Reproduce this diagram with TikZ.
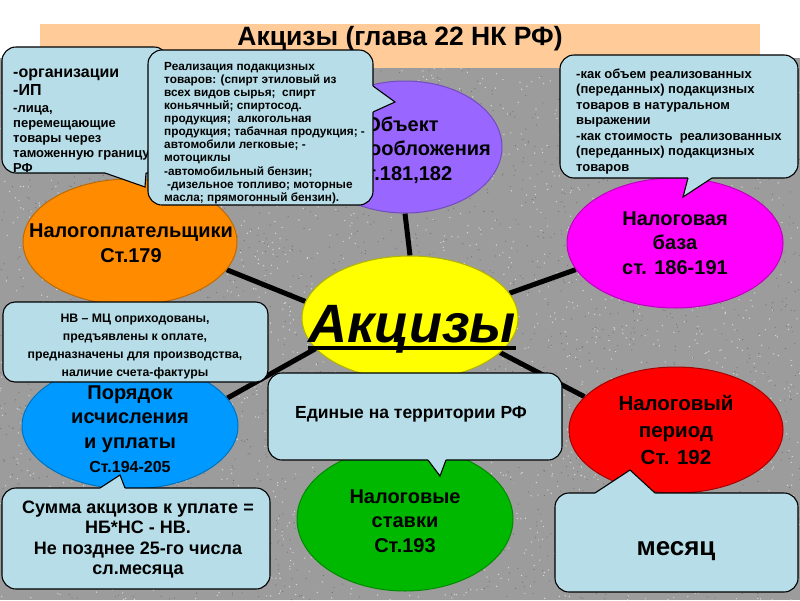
\documentclass[tikz,border=0pt]{standalone}
\usepackage{fontspec}
\setmainfont{Liberation Sans}
\usetikzlibrary{shapes.geometric}
\pgfdeclarelayer{bg}
\pgfdeclarelayer{lines}
\pgfsetlayers{bg,lines,main}
\definecolor{callout}{RGB}{183,222,232}
\definecolor{peach}{RGB}{255,204,153}
\definecolor{granite}{RGB}{156,156,156}
\definecolor{cOrange}{RGB}{255,140,0}
\definecolor{cPurple}{RGB}{153,102,255}
\definecolor{cMagenta}{RGB}{255,0,255}
\definecolor{cBlue}{RGB}{0,153,255}
\definecolor{cGreen}{RGB}{0,184,0}
\definecolor{cRed}{RGB}{255,0,0}
\definecolor{cYellow}{RGB}{255,255,0}
\tikzset{
  oval/.style={ellipse, inner sep=0pt, line width=1pt},
  olabel/.style={inner sep=0pt, align=center, font=\bfseries\fontsize{20}{24.5}\selectfont},
  cbox/.style={rectangle, rounded corners=14pt, fill=callout, draw=black,
    line width=1.1pt, inner sep=0pt},
  ctext/.style={inner sep=0pt},
  tailline/.style={draw=black, line width=1.1pt, line join=miter},
  link/.style={line width=5pt, black},
}
\begin{document}
\begin{tikzpicture}[x=1pt,y=-1pt]
\useasboundingbox (0,0) rectangle (800,600);
\begin{pgfonlayer}{bg}
  \fill[white] (0,0) rectangle (800,600);
  \fill[granite] (0,58) rectangle (800,600);
  \pgfmathsetseed{7}
  \foreach \i in {1,...,2600}{\fill[gray!30] ({800*rnd},{58+542*rnd}) circle[radius=0.7pt];}
  \foreach \i in {1,...,2600}{\fill[black!55] ({800*rnd},{58+542*rnd}) circle[radius=0.6pt];}
  \fill[peach] (40,24) rectangle (760,68);
\end{pgfonlayer}

% title
\node[ctext, anchor=base, font=\bfseries\fontsize{26.5}{30}\selectfont] (title) at (400,45) {Акцизы (глава 22 НК РФ)};

% ellipses
\node[oval, fill=cYellow, draw=cYellow!70!black, minimum width=216pt, minimum height=124pt] (center) at (410,318) {};
\node[oval, fill=cPurple, draw=cPurple!75!black, minimum width=194pt, minimum height=132pt] (purple) at (405,147) {};
\node[olabel] (lblPurple) at (402,150) {Объект\\налогообложения\\Ст.181,182};
\node[oval, fill=cOrange, draw=cOrange!75!black, minimum width=214pt, minimum height=126pt] (orange) at (130,242) {};
\node[olabel] (lblOrange) at (131,243) {Налогоплательщики\\Ст.179};
\node[oval, fill=cMagenta, draw=cMagenta!75!black, minimum width=216pt, minimum height=130pt] (magenta) at (675,243) {};
\node[olabel] (lblMagenta) at (675,243) {Налоговая\\база\\ст. 186-191};
\node[oval, fill=cBlue, draw=cBlue!75!black, minimum width=216pt, minimum height=126pt] (blue) at (130,426) {};
\node[olabel] (lblBlue) at (130,429) {Порядок\\исчисления\\и уплаты\\{\fontsize{16}{19}\selectfont Ст.194-205}};
\node[oval, fill=cGreen, draw=cGreen!75!black, minimum width=216pt, minimum height=144pt] (green) at (405,519) {};
\node[olabel] (lblGreen) at (405,521) {Налоговые\\ставки\\Ст.193};
\node[oval, fill=cRed, draw=cRed!65!black, minimum width=214pt, minimum height=126pt] (red) at (676,430) {};
\node[olabel, font=\bfseries\fontsize{20.5}{27}\selectfont] (lblRed) at (676,430) {Налоговый\\период\\Ст. 192};

\node[ctext, anchor=base, font=\bfseries\itshape\fontsize{54}{60}\selectfont] (akc) at (412,342) {Акцизы};
\draw[line width=4pt] ([yshift=-6pt]akc.base west) -- ([yshift=-6pt]akc.base east);

\begin{pgfonlayer}{lines}
  \draw[link] (center.90) -- (purple.270);
  \draw[link] (center.171) -- (orange.-16);
  \draw[link] (center.14) -- (magenta.195);
  \draw[link] (center.198) -- (blue.16);
  \draw[link] (center.-21) -- (red.160);
  \draw[link] (center.270) -- (green.90);
\end{pgfonlayer}

% callout A
\node[cbox, minimum width=166pt, minimum height=126pt] (boxA) at (85,110) {};
\fill[callout] (105,173) -- (145,187) -- (146,173) -- (146,169) -- (105,169) -- cycle;
\draw[tailline] (105,173) -- (145,187) -- (146,173);
\node[ctext, anchor=north west, align=left, font=\bfseries\fontsize{13}{15}\selectfont] (txtA) at (13,65.5)
  {\rule{0pt}{11.5pt}{\fontsize{16}{18}\selectfont -организации}\\[3pt]
   {\fontsize{16}{18}\selectfont -ИП}\\[2pt]
   -лица,\\перемещающие\\товары через\\таможенную границу\\РФ};

% callout B
\node[cbox, minimum width=225pt, minimum height=155pt] (boxB) at (260.5,127.5) {};
\fill[callout] (373,86) -- (395,102) -- (373,112) -- (369,112) -- (369,86) -- cycle;
\draw[tailline] (373,86) -- (395,102) -- (373,112);
\node[ctext, anchor=north west, align=left, font=\bfseries\fontsize{11.8}{13.1}\selectfont] (txtB) at (164,61.5)
  {\rule{0pt}{8.5pt}Реализация подакцизных\\
   товаров: (спирт этиловый из\\
   всех видов сырья;\ \ спирт\\
   коньячный; спиртосод.\\
   продукция;\ \ алкогольная\\
   продукция; табачная продукция; -\\
   автомобили легковые; -\\
   мотоциклы\\
   -автомобильный бензин;\\
   \hspace{3pt}-дизельное топливо; моторные\\
   масла; прямогонный бензин).};

% callout C
\node[cbox, minimum width=238pt, minimum height=123pt] (boxC) at (679,116.5) {};
\fill[callout] (688,178) -- (683,197) -- (712,178) -- (712,174) -- (688,174) -- cycle;
\draw[tailline] (688,178) -- (683,197) -- (712,178);
\node[ctext, anchor=north west, align=left, font=\bfseries\fontsize{13}{15.5}\selectfont] (txtC) at (576,68.6)
  {\rule{0pt}{9.4pt}-как объем реализованных\\
   (переданных) подакцизных\\
   товаров в натуральном\\
   выражении\\
   -как стоимость\ \ реализованных\\
   (переданных) подакцизных\\
   товаров};

% callout D
\node[cbox, rounded corners=12pt, minimum width=265pt, minimum height=80pt] (boxD) at (135.5,342) {};
\node[ctext, anchor=north, align=center, font=\bfseries\fontsize{12.3}{17.8}\selectfont] (txtD) at (135,313.5)
  {\rule{0pt}{8.9pt}НВ – МЦ оприходованы,\\
   предъявлены к оплате,\\
   предназначены для производства,\\
   наличие счета-фактуры};

% callout F
\node[cbox, minimum width=294pt, minimum height=87pt] (boxF) at (415,416.5) {};
\fill[callout] (428,460) -- (440,476) -- (446,460) -- (446,456) -- (428,456) -- cycle;
\draw[tailline] (428,460) -- (440,476) -- (446,460);
\node[ctext, anchor=base, font=\bfseries\fontsize{17.5}{20}\selectfont] (txtF) at (411,418) {Единые на территории РФ};

% callout E
\node[cbox, minimum width=268pt, minimum height=101pt] (boxE) at (136,538.5) {};
\fill[callout] (100,488) -- (120,475) -- (125,488) -- (125,492) -- (100,492) -- cycle;
\draw[tailline] (100,488) -- (120,475) -- (125,488);
\node[ctext, anchor=north, align=center, font=\bfseries\fontsize{18}{20.5}\selectfont] (txtE) at (138,500)
  {\rule{0pt}{13pt}Сумма акцизов к уплате =\\
   НБ*НС - НВ.\\
   Не позднее 25-го числа\\
   сл.месяца};

% callout G
\node[cbox, minimum width=243pt, minimum height=99pt] (boxG) at (676.5,542.5) {};
\fill[callout] (595,493) -- (630,470) -- (655,493) -- (655,497) -- (595,497) -- cycle;
\draw[tailline] (595,493) -- (630,470) -- (655,493);
\node[ctext, anchor=base, font=\bfseries\fontsize{26}{30}\selectfont] (txtG) at (676,555) {месяц};
\end{tikzpicture}
\end{document}
